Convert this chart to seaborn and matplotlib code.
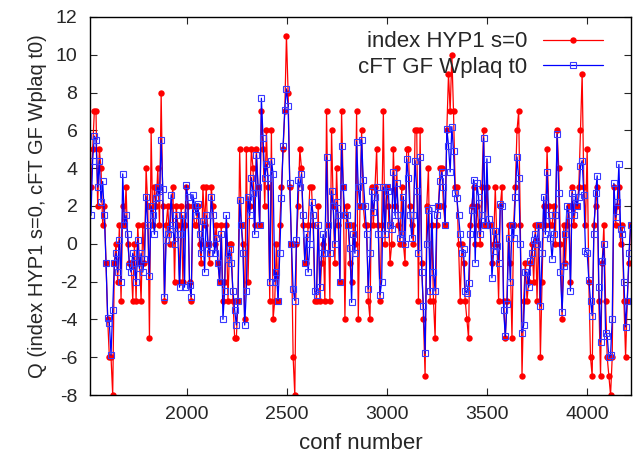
import numpy as np
import pandas as pd
import matplotlib
matplotlib.use("Agg")
import matplotlib.pyplot as plt
import seaborn as sns

# topological charge per configuration in six stretches
# index HYP1 s=0 (integer valued)
q_index_a = [3, 5, 7, 7, 2, 5, 4, 1, 2, -1, -4, -6, -6, -8, -1, 0, -2, 1,
             -3, 2, 1, 3, 0, -1, -1, -3, 0, -3, 1, -1, -3, 1, -1, 4, 2, -5,
             6, 1, 3, 2, 4, 1, 8, 2, -3, 1, 2, 0, 2, 3, -2, 2, 1, -2]
q_index_b = [2, -2, 1, 3, 2, -2, -3, 2, 1, 1, 2, 0, -1, 3, 1, 3, 0, -1,
             3, 2, 0, 1, -1, -2, 1, -3, -2, 1, -3, 0, 0, -3, -5, -5, -3, 5,
             1, 0, -4, 5, -2, 2, 5, 4, 1, 5, 3, 1, 7, 5, 2, 6, 3, -3]
q_index_c = [6, -4, -3, 0, -3, 1, 3, 5, 7, 11, 8, 3, 0, -6, -8, 0, 2, 5,
             4, 1, -1, -1, 1, 3, 3, 1, -3, -3, 2, -3, -1, 0, -3, 7, 1, -3,
             6, 2, -1, 4, 1, -2, 7, 3, -4, 2, 1, -1, -2, 1, 0, 7, -4, 2]
q_index_d = [6, 2, 1, 1, -3, -4, 3, 1, 3, 5, 1, -3, 1, 7, 0, 3, 2, -1,
             0, 5, 2, 4, 1, 0, 3, 0, -1, 5, 5, 2, 1, 0, 6, 6, -3, 6,
             -1, -4, -7, 2, 4, -3, 1, -3, -5, 1, 2, 4, 4, 2, 1, 6, 9, 7]
q_index_e = [10, 7, 3, 3, 0, -3, 0, -1, -3, -4, -5, 1, 2, 3, 0, 2, 1, 0,
             3, 6, 1, 3, 1, 1, -1, 0, 3, 0, -3, 2, 3, -3, -5, -3, 1, -1,
             -5, 1, 3, 6, 7, 1, -7, -3, -1, -3, -2, -1, 0, -2, 1, -3, 1, -6]
q_index_f = [-2, 2, 1, 5, 2, 1, 1, 2, 0, 6, 4, 0, -4, 1, -1, 1, 2, -2,
             3, 1, 2, 2, 3, 6, 9, 3, 1, 5, -2, -6, -7, 1, 2, 3, -3, -7,
             -1, 1, -3, -6, -7, -8, -6, 3, 1, 2, 3, 0, 1, -3, -6, -3, -1, 1]

# cFT GF Wplaq t0
q_cft_a = [1.5, 4.4, 5.7, 5.5, 3.0, 4.4, 2.2, 3.3, 1.5, -1.0, -3.9, -4.2,
           -5.9, -3.5, -1.0, -0.5, -1.5, 0.2, -2.0, 3.7, 1.0, 1.5, 0.5, -1.2,
           -1.5, -0.5, -1.0, -2.0, 0.2, -1.3, -0.5, -1.5, -0.8, 2.5, 1.0, -1.7,
           2.0, 1.5, 0.5, 2.4, 3.0, 2.5, 5.5, 2.9, -2.8, 0.2, 0.5, 0.8,
           2.6, 1.0, 0.0, 1.5, 0.5, -2.3]
q_cft_b = [0.5, 1.5, -2.3, 3.1, 2.5, -2.2, -2.8, 2.6, 2.0, 1.5, 2.1, 0.5,
           -0.5, 1.2, -1.5, 1.5, 0.0, -0.5, 2.5, 1.5, -0.5, 0.3, -1.0, -2.0,
           0.5, -4.0, -2.5, 1.5, -0.8, -0.3, -1.0, -2.5, -3.5, -4.3, -3.0, 2.3,
           1.0, -0.5, -4.3, -2.5, 2.5, 1.5, 3.5, 2.7, 0.5, 4.7, 3.0, 1.0,
           7.7, 5.6, 3.5, 4.2, 3.5, -2.0]
q_cft_c = [4.4, 3.7, -2.0, -1.5, -3.0, -0.5, 2.4, 5.2, 7.1, 8.2, 7.3, 3.2,
           0.0, -2.4, -3.0, 0.2, 3.4, 3.0, 3.7, 1.5, -1.0, 0.5, -1.5, 0.0,
           2.2, 1.5, -2.5, -2.7, 1.0, -2.3, -0.5, 0.5, -0.5, 4.6, 1.0, -0.5,
           2.8, 2.0, 0.0, 2.2, 1.5, -2.0, 5.2, 3.0, 1.5, 1.5, 1.0, -0.2,
           -3.1, 0.5, -0.5, 5.4, 3.0, 2.0]
q_cft_d = [5.5, 3.4, 2.0, 0.5, -2.4, -0.5, 2.8, 1.7, 2.5, 3.0, 0.5, -2.7,
           -2.0, 3.0, 0.5, 3.0, 2.8, 1.0, 0.8, 3.8, 1.5, 3.2, 1.5, 0.3,
           0.5, 2.5, 0.0, 4.5, 3.5, 1.5, 0.3, 1.5, 4.4, 2.8, -0.5, 4.6,
           -1.5, -3.3, -5.8, 0.0, 1.8, -2.5, 1.9, -1.5, -2.5, 1.5, 2.0, 3.3,
           3.8, 3.0, 1.0, 6.1, 5.2, 3.8]
q_cft_e = [6.2, 4.9, 2.7, 2.4, 1.5, 0.5, -0.5, -0.3, -2.5, -2.6, -2.1, 0.5,
           1.8, 3.4, -1.0, 3.2, 2.5, 0.5, 1.5, 5.6, 1.0, 4.5, 1.3, 1.0,
           -1.8, -0.4, 0.7, -0.1, -1.0, 2.1, 2.0, -3.5, -4.9, -3.2, 0.3, -2.0,
           1.0, 0.3, 2.5, 4.6, 3.5, 0.0, -4.7, -4.3, -1.5, -1.5, -2.3, -0.9,
           -0.5, 0.2, 0.5, 0.0, 1.0, -3.3]
q_cft_f = [-0.5, 2.5, 0.5, 3.8, 1.5, 0.3, -0.8, 0.5, 1.5, 5.8, 2.7, -1.5,
           -3.6, -1.2, 0.5, 2.0, 1.5, -2.5, 2.7, 1.5, 2.5, 2.0, 2.5, 4.1,
           4.4, 2.6, -0.4, -0.5, -1.9, -3.0, -3.8, 0.5, 2.7, 3.6, -2.3, -5.2,
           -0.9, 0.0, -4.7, -4.9, -6.0, -5.9, -4.0, 3.2, 1.4, 2.2, 4.2, 0.8,
           0.5, -2.0, -4.4, -3.0, -0.5, 1.0]

q_index = q_index_a + q_index_b + q_index_c + q_index_d + q_index_e + q_index_f
q_cft = q_cft_a + q_cft_b + q_cft_c + q_cft_d + q_cft_e + q_cft_f
assert len(q_index) == len(q_cft)

conf = np.linspace(1520, 4218, len(q_index))
df = pd.DataFrame({"conf": conf, "index": q_index, "cft": q_cft})

sns.set_style("ticks")
plt.rcParams['font.family'] = ['Liberation Sans', 'DejaVu Sans']
plt.rcParams['axes.unicode_minus'] = False

fig, ax = plt.subplots(figsize=(6.35, 4.59), dpi=100)
fig.subplots_adjust(left=0.1417, right=0.9937, bottom=0.1394, top=0.963)

sns.lineplot(data=df, x="conf", y="index", ax=ax, estimator=None, color="red",
             lw=0.9, marker="o", markersize=4.6, markeredgewidth=0,
             label="index HYP1 s=0")
sns.lineplot(data=df, x="conf", y="cft", ax=ax, estimator=None, color="blue",
             lw=0.9, marker="s", markersize=5, markerfacecolor="none",
             markeredgecolor="#3a3aff", markeredgewidth=0.8,
             label="cFT GF Wplaq t0")

ax.set_xlim(1515, 4220)
ax.set_ylim(-8, 12)
ax.set_xticks([2000, 2500, 3000, 3500, 4000])
ax.set_yticks(range(-8, 13, 2))
ax.tick_params(direction="in", top=True, right=True, length=5, labelsize=14)
ax.tick_params(axis="y", pad=9)
ax.tick_params(axis="x", pad=8)
for s in ax.spines.values():
    s.set_linewidth(1)
    s.set_color("black")

ax.set_xlabel("conf number", fontsize=16, labelpad=7)
ax.set_ylabel("Q (index HYP1 s=0, cFT GF Wplaq t0)", fontsize=14.5, labelpad=6)

ax.legend(loc="upper right", bbox_to_anchor=(0.948, 0.962), frameon=False,
          markerfirst=False, handlelength=2.7, handletextpad=0.7,
          fontsize=16, borderaxespad=0, borderpad=0, labelspacing=0.2)

plt.savefig("out.png", dpi=100)
